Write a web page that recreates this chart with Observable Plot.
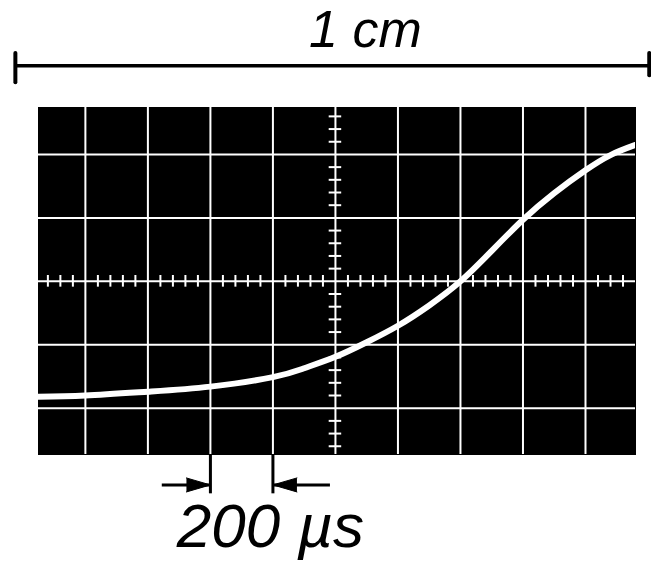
<!DOCTYPE html>
<html>
<head>
<meta charset="utf-8">
<script src="https://cdn.jsdelivr.net/npm/d3@7"></script>
<script src="https://cdn.jsdelivr.net/npm/@observablehq/plot@0.6"></script>
<style>
  html, body { margin: 0; padding: 0; background: #fff; }
  #chart svg { display: block; }
</style>
</head>
<body>
<div id="chart"></div>
<script>
// Oscilloscope screen, in graticule divisions
const xDomain = [-4.75, 4.8];
const yDomain = [-2.73, 2.74];
const gridX = [-4, -3, -2, -1, 0, 1, 2, 3, 4];
const gridY = [-2, -1, 0, 1, 2];
const minorX = d3.range(-23, 24).filter(k => k % 5 !== 0).map(k => k / 5);
const minorY = d3.range(-13, 14).filter(k => k % 5 !== 0).map(k => k / 5);

// Trace
const traceX = [-4.75, -4, -3, -2, -1, -0.5, 0, 0.5, 1, 1.5, 2, 2.5, 3, 3.5, 4, 4.4, 4.8];
const traceY = [-1.82, -1.80, -1.74, -1.66, -1.51, -1.37, -1.19, -0.96, -0.70, -0.38, 0.0, 0.48, 0.97, 1.39, 1.75, 1.99, 2.15];
const trace = traceX.map((x, i) => ({x, y: traceY[i]}));

// Annotations (in division units)
const scaleLabel = "1 cm";
const scaleBar = {x1: -5.12, x2: 5.02, y: 3.40};
const scaleCaps = [{x: -5.12, y1: 3.13, y2: 3.59}, {x: 5.02, y1: 3.24, y2: 3.59}];
const scaleLabelPos = {x: 0.48, y: 3.95};
const timeLabel = "200 µs";
const timeMarks = [-2, -1];
const timeMarkBottom = -3.35;
const arrowY = -3.21;
const arrowShafts = [{x1: -2.77, x2: -2.0}, {x1: -0.08, x2: -1.0}];
const arrowHeads = [{x: -2.0, rot: 90}, {x: -1.0, rot: -90}];
const timeLabelPos = {x: -1.04, y: -3.88};

const chart = Plot.plot({
  width: 651,
  height: 565,
  marginLeft: 38,
  marginRight: 16,
  marginTop: 107,
  marginBottom: 111,
  x: {domain: xDomain, axis: null},
  y: {domain: yDomain, axis: null},
  style: {background: "white"},
  marks: [
    Plot.frame({fill: "black", stroke: "black"}),
    Plot.ruleX(gridX, {stroke: "white", strokeWidth: 2}),
    Plot.ruleY(gridY, {stroke: "white", strokeWidth: 2}),
    Plot.ruleX(minorX, {x: d => d, y1: -0.092, y2: 0.092, stroke: "white", strokeWidth: 2}),
    Plot.ruleY(minorY, {y: d => d, x1: -0.1, x2: 0.1, stroke: "white", strokeWidth: 2}),
    Plot.line(trace, {x: "x", y: "y", curve: "natural", stroke: "white", strokeWidth: 6, strokeLinecap: "round", clip: "frame"}),
    // 1 cm scale bar
    Plot.ruleY([scaleBar], {y: "y", x1: "x1", x2: "x2", stroke: "black", strokeWidth: 3.5}),
    Plot.ruleX(scaleCaps, {x: "x", y1: "y1", y2: "y2", stroke: "black", strokeWidth: 4, strokeLinecap: "round"}),
    Plot.text([scaleLabel], {x: scaleLabelPos.x, y: scaleLabelPos.y, text: d => d, fontSize: 52, fontStyle: "italic", fontFamily: "Liberation Sans", fill: "black"}),
    // 200 µs marker
    Plot.ruleX(timeMarks, {x: d => d, y1: yDomain[0], y2: timeMarkBottom, stroke: "black", strokeWidth: 3}),
    Plot.ruleY(arrowShafts, {y: arrowY, x1: "x1", x2: "x2", stroke: "black", strokeWidth: 3}),
    Plot.vector(arrowHeads, {x: "x", y: arrowY, rotate: "rot", length: 24, r: 7, shape: "spike", anchor: "end", fill: "black", stroke: "black", strokeWidth: 1}),
    Plot.text([timeLabel], {x: timeLabelPos.x, y: timeLabelPos.y, text: d => d, fontSize: 62, fontStyle: "italic", fontFamily: "Liberation Sans", fill: "black"})
  ]
});
document.getElementById("chart").append(chart);
</script>
</body>
</html>
